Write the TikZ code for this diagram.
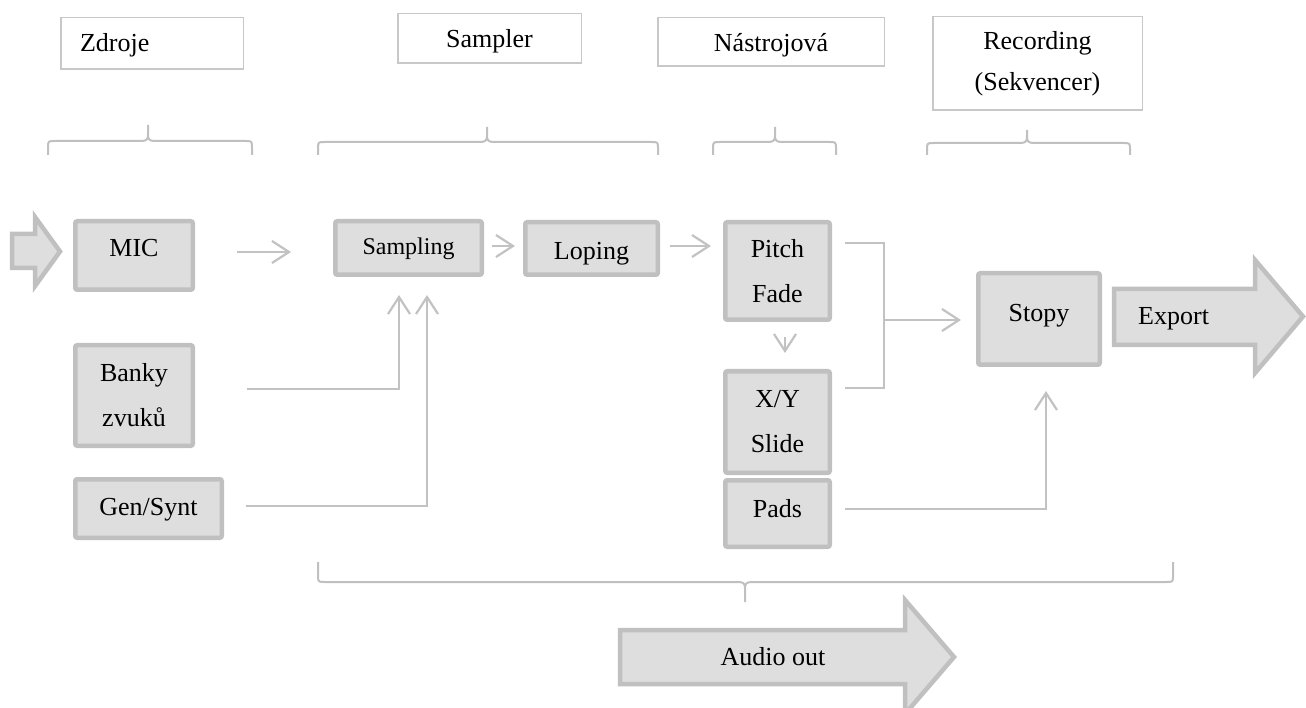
\documentclass[tikz,border=0pt]{standalone}
\usepackage{fontspec}
\setmainfont{Liberation Serif}
\usetikzlibrary{arrows.meta}
\definecolor{bord}{HTML}{C0C0C0}
\definecolor{boxfill}{HTML}{DEDEDE}
\definecolor{hdr}{HTML}{C8C8C8}
\definecolor{conncol}{HTML}{C2C2C2}
\newcommand\bl[2]{\raisebox{-#1pt}[0pt][0pt]{#2}}
\newcommand\mybrace[7]{%
 \draw[bracestyle] (#1,#5) -- (#1,{#4+#7}) .. controls (#1,#4) .. ({#1+7},#4)
  -- ({#2-7},#4) .. controls ({#2-1},#4) and (#2,{#4-#7/4}) .. (#2,{#4-#7}) -- (#2,#6)
  (#2,{#4-#7}) .. controls (#2,{#4-#7/4}) and ({#2+1},#4) .. ({#2+7},#4)
  -- ({#3-7},#4) .. controls (#3,#4) .. (#3,{#4+#7}) -- (#3,#5);}
\begin{document}
\begin{tikzpicture}[x=1pt,y=-1pt,
 blk/.style={draw=bord, fill=boxfill, line width=4.5pt, rounded corners=2pt, inner sep=0pt, align=center, font=\fontsize{26}{45}\selectfont},
 hdrbox/.style={draw=hdr, line width=1.5pt, fill=white, inner sep=0pt, align=center, font=\fontsize{26}{41}\selectfont},
 conn/.style={draw=conncol, line width=2pt, -{Straight Barb[length=17pt,width=22pt,line width=2.2pt]}},
 wire/.style={draw=conncol, line width=2pt},
 bracestyle/.style={draw=bord, line width=2pt},
 bigarrow/.style={draw=bord, fill=boxfill, line width=4.5pt, line join=miter},
 lbl/.style={inner sep=0pt, font=\fontsize{26}{45}\selectfont}]
\useasboundingbox (0,0) rectangle (1306,708);
\clip (0,0) rectangle (1306,708);

% header boxes
\node[hdrbox, minimum width=182.5pt, minimum height=51.5pt] (zdroje) at (152,43.5) {\bl{8.5}{\makebox[144pt][l]{Zdroje}}};
\node[hdrbox, minimum width=183.5pt, minimum height=49.5pt] (sampler) at (489.5,38.5) {\bl{9.5}{Sampler}};
\node[hdrbox, minimum width=226.5pt, minimum height=48.5pt] (nastr) at (771,42) {\bl{10}{Nástrojová}};
\node[hdrbox, minimum width=209.5pt, minimum height=93.5pt] (recording) at (1037.5,63.5) {Recording\\(Sekvencer)};

% braces
\mybrace{48}{148}{252}{141}{155}{125}{7}
\mybrace{318}{487}{658}{142}{155}{127}{7}
\mybrace{713}{775}{836}{142}{155}{127}{7}
\mybrace{927}{1027}{1130}{143}{155}{130}{7}
\mybrace{318}{745}{1173}{582}{562}{602}{-7}

% blocks
\node[blk, minimum width=117.5pt, minimum height=68.5pt] (mic) at (134,255.5) {\bl{1.5}{MIC}};
\node[blk, minimum width=117.5pt, minimum height=100.5pt] (banky) at (134,395.5) {Banky\\zvuků};
\node[blk, minimum width=146.5pt, minimum height=58.5pt] (gen) at (148.5,508.5) {\bl{6.5}{Gen/Synt}};
\node[blk, minimum width=146.5pt, minimum height=53.5pt, font=\fontsize{24}{40}\selectfont] (sampling) at (408.5,248) {\bl{6.5}{Sampling}};
\node[blk, minimum width=132.5pt, minimum height=52.5pt] (loping) at (591.5,248.5) {\bl{11}{Loping}};
\node[blk, minimum width=104.5pt, minimum height=97.5pt] (pitch) at (777.5,271) {Pitch\\Fade};
\node[blk, minimum width=104.5pt, minimum height=101.5pt] (xy) at (777.5,422) {X/Y\\Slide};
\node[blk, minimum width=104.5pt, minimum height=66.5pt] (pads) at (777.5,513.5) {\bl{3.5}{Pads}};
\node[blk, minimum width=121.5pt, minimum height=91.5pt] (stopy) at (1039,319) {\bl{3}{Stopy}};

% big arrows
\draw[bigarrow] (12,234) -- (35,234) -- (35,217) -- (60,251.5) -- (35,286) -- (35,268) -- (12,268) -- cycle;
\draw[bigarrow] (1114,289) -- (1255,289) -- (1255,260) -- (1303,316.5) -- (1255,373) -- (1255,345) -- (1114,345) -- cycle;
\node[lbl, anchor=base west] (export) at (1138,325) {Export};
\draw[bigarrow] (620,630) -- (905,630) -- (905,600) -- (954,657) -- (905,714) -- (905,684) -- (620,684) -- cycle;
\node[lbl, anchor=base] (audio) at (773,665) {Audio out};

% connectors
\draw[conn, shorten <=42pt, shorten >=42pt] ([yshift=3.5pt]mic.east) -- ([yshift=3.5pt]mic.east -| sampling.west);
\draw[conn, shorten <=8pt, shorten >=8pt] ([yshift=2pt]sampling.east) -- ([yshift=2pt]sampling.east -| loping.west);
\draw[conn, shorten <=10pt, shorten >=12pt] ([yshift=2.5pt]loping.east) -- ([yshift=2.5pt]loping.east -| pitch.west);
\draw[conn, shorten <=15pt, shorten >=16pt] ([xshift=7.5pt]pitch.south) -- ([xshift=7.5pt]pitch.south |- xy.north);
\coordinate (jt) at (884,243);
\coordinate (jb) at (884,388);
\coordinate (jm) at (884,320);
\draw[wire, line join=miter] ([xshift=13pt,yshift=28pt]pitch.east) -- (jt) -- (jb) -- ([xshift=13pt]jb -| xy.east);
\draw[conn, shorten >=15pt] (jm) -- (jm -| stopy.west);
\draw[conn, shorten >=24pt, line join=miter] ([xshift=13pt,yshift=4.5pt]pads.east) -| ([xshift=7pt]stopy.south);
\draw[conn, shorten >=18pt, line join=miter] ([xshift=52pt,yshift=6.5pt]banky.east) -| ([xshift=-9.5pt]sampling.south);
\draw[conn, shorten >=18pt, line join=miter] ([xshift=22pt,yshift=2.5pt]gen.east) -| ([xshift=18.5pt]sampling.south);
\end{tikzpicture}
\end{document}
